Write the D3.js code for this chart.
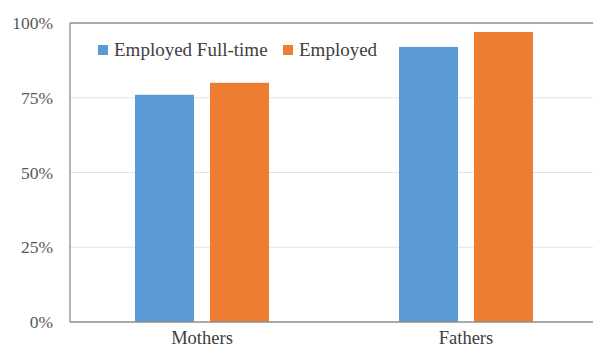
<!DOCTYPE html>
<html><head><meta charset="utf-8">
<script src="https://cdn.jsdelivr.net/npm/d3@7"></script>
<style>body{margin:0;background:#fff}svg{display:block}</style>
</head><body>
<script>
const categories = ["Mothers", "Fathers"];
const seriesNames = ["Employed Full-time", "Employed"];
const fullTime = [76, 92];
const employed = [80, 97];
const tickValues = [0, 25, 50, 75, 100];

const W = 593, H = 353;
const m = {left: 70, right: -5, top: 23, bottom: 31};
const svg = d3.select("body").append("svg").attr("width", W).attr("height", H);
const font = "'Liberation Serif', 'Times New Roman', serif";

const x = d3.scaleBand().domain(categories).range([m.left, W - m.right]).paddingInner(0).paddingOuter(0);
const y = d3.scaleLinear().domain([0, 100]).range([H - m.bottom, m.top]);
const colors = ["#5B9BD5", "#ED7D31"];
const series = [fullTime, employed];

// gridlines
svg.append("g").selectAll("line").data(tickValues.filter(v => v > 0 && v < 100)).join("line")
  .attr("x1", m.left).attr("x2", W).attr("y1", d => y(d)).attr("y2", d => y(d))
  .attr("stroke", "#e3e3e3").attr("stroke-width", 1.2);

// bars
const barW = 59, gap = 16;
const x1 = d3.scaleBand().domain(d3.range(series.length)).range([0, barW * 2 + gap]).paddingInner(gap / (barW + gap));
series.forEach((vals, si) => {
  svg.append("g").selectAll("rect").data(categories).join("rect")
    .attr("x", (c) => x(c) + x.bandwidth() / 2 - (barW * 2 + gap) / 2 + x1(si))
    .attr("width", x1.bandwidth())
    .attr("y", (c, i) => y(vals[i]))
    .attr("height", (c, i) => y(0) - y(vals[i]))
    .attr("fill", colors[si]);
});

// frame lines
svg.append("line").attr("x1", m.left).attr("x2", W).attr("y1", y(100)).attr("y2", y(100))
  .attr("stroke", "#8c8c8c").attr("stroke-width", 1.3);
svg.append("line").attr("x1", m.left).attr("x2", W).attr("y1", y(0)).attr("y2", y(0))
  .attr("stroke", "#8c8c8c").attr("stroke-width", 1.3);
svg.append("line").attr("x1", m.left).attr("x2", m.left).attr("y1", y(100)).attr("y2", y(0))
  .attr("stroke", "#8c8c8c").attr("stroke-width", 1.3);

// y axis labels
const yAxis = d3.axisLeft(y).tickValues(tickValues).tickFormat(d => d + "%").tickSize(0).tickPadding(17);
const ya = svg.append("g").attr("transform", `translate(${m.left},0)`).call(yAxis);
ya.select(".domain").remove();
ya.selectAll("text").attr("font-family", font).attr("font-size", 17.5).attr("fill", "#595959");

// x axis labels
const xAxis = d3.axisBottom(x).tickSize(0).tickPadding(9);
const xa = svg.append("g").attr("transform", `translate(0,${y(0)})`).call(xAxis);
xa.select(".domain").remove();
xa.selectAll("text").attr("font-family", font).attr("font-size", 18.5).attr("fill", "#404040");

// legend
const legendX = [98, 283];
const lg = svg.append("g");
seriesNames.forEach((name, i) => {
  lg.append("rect").attr("x", legendX[i]).attr("y", 45).attr("width", 10).attr("height", 10).attr("fill", colors[i]);
  lg.append("text").attr("x", legendX[i] + 16).attr("y", 56).text(name)
    .attr("font-family", font).attr("font-size", 19).attr("fill", "#404040");
});
</script>
</body></html>
